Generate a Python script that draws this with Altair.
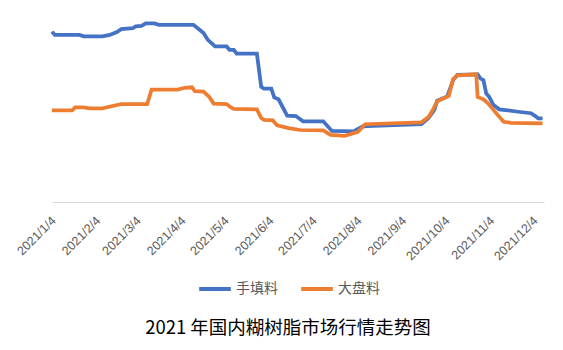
import altair as alt
import pandas as pd

series_names = ["手填料", "大盘料"]
series_colors = ["#4472C4", "#ED7D31"]

tick_labels = ["2021/1/4", "2021/2/4", "2021/3/4", "2021/4/4", "2021/5/4", "2021/6/4",
               "2021/7/4", "2021/8/4", "2021/9/4", "2021/10/4", "2021/11/4", "2021/12/4"]

title_text = "2021 年国内糊树脂市场行情走势图"

blue_dates = ["2021-01-04", "2021-01-06", "2021-01-23", "2021-01-26", "2021-02-08", "2021-02-13",
              "2021-02-18", "2021-02-21", "2021-03-01", "2021-03-03", "2021-03-07", "2021-03-10",
              "2021-03-16", "2021-03-19", "2021-04-12", "2021-04-15", "2021-04-19", "2021-04-22",
              "2021-04-27", "2021-05-05", "2021-05-07", "2021-05-10", "2021-05-12", "2021-05-26",
              "2021-05-29", "2021-05-31", "2021-06-05", "2021-06-07", "2021-06-10", "2021-06-16",
              "2021-06-22", "2021-06-27", "2021-07-11", "2021-07-17", "2021-08-01", "2021-08-07",
              "2021-08-10", "2021-09-17", "2021-09-22", "2021-09-26", "2021-09-28", "2021-10-05",
              "2021-10-09", "2021-10-12", "2021-10-26", "2021-10-28", "2021-10-30", "2021-11-01",
              "2021-11-03", "2021-11-06", "2021-11-10", "2021-11-23", "2021-12-02", "2021-12-05",
              "2021-12-07", "2021-12-10"]
blue_values = [22750, 22400, 22400, 22250, 22250, 22400,
               22700, 23000, 23100, 23300, 23350, 23600,
               23600, 23450, 23450, 23100, 22600, 21900,
               21200, 21200, 20850, 20850, 20450, 20450,
               17000, 16800, 16800, 15900, 15700, 14000,
               13950, 13400, 13400, 12400, 12350, 12850,
               12900, 13100, 13750, 14600, 15550, 16000,
               17700, 18250, 18300, 17850, 17700, 16300,
               15950, 15100, 14650, 14400, 14250, 13950,
               13700, 13700]

orange_dates = ["2021-01-04", "2021-01-18", "2021-01-20", "2021-01-26", "2021-01-30", "2021-02-08",
                "2021-02-18", "2021-02-21", "2021-03-11", "2021-03-14", "2021-04-01", "2021-04-06",
                "2021-04-11", "2021-04-13", "2021-04-19", "2021-04-23", "2021-04-26", "2021-05-05",
                "2021-05-08", "2021-05-10", "2021-05-26", "2021-05-29", "2021-05-31", "2021-06-06",
                "2021-06-09", "2021-06-17", "2021-06-25", "2021-07-11", "2021-07-16", "2021-07-26",
                "2021-08-04", "2021-08-09", "2021-09-17", "2021-09-22", "2021-09-25", "2021-09-28",
                "2021-10-06", "2021-10-09", "2021-10-12", "2021-10-25", "2021-10-26", "2021-10-30",
                "2021-11-02", "2021-11-06", "2021-11-09", "2021-11-13", "2021-11-18", "2021-12-10"]
orange_values = [14550, 14550, 14850, 14850, 14750, 14750,
                 15100, 15200, 15200, 16700, 16700, 16900,
                 16950, 16550, 16500, 15950, 15250, 15200,
                 14850, 14700, 14650, 13750, 13550, 13500,
                 13000, 12700, 12500, 12450, 12000, 11900,
                 12300, 13100, 13300, 13850, 14600, 15500,
                 16050, 17800, 18200, 18300, 15950, 15700,
                 15300, 14600, 14050, 13350, 13250, 13200]

x_start = "2021-01-04"
x_end = "2021-12-11"


def to_ms(s, fmt):
    return int(pd.to_datetime(s, format=fmt).value // 10**6)


tick_ms = [to_ms(t, "%Y/%m/%d") for t in tick_labels]
domain_ms = [to_ms(x_start, "%Y-%m-%d"), to_ms(x_end, "%Y-%m-%d")]

df_blue = pd.DataFrame({"date": blue_dates, "price": blue_values, "series": series_names[0]})
df_orange = pd.DataFrame({"date": orange_dates, "price": orange_values, "series": series_names[1]})
df_title = pd.DataFrame({"t": [title_text]})

x_enc = alt.X(
    "date:T",
    scale=alt.Scale(type="utc", domain=domain_ms),
    axis=alt.Axis(
        values=tick_ms,
        labelExpr="utcFormat(datum.value, '%Y/%-m/%-d')",
        labelAngle=-45,
        labelAlign="right",
        labelBaseline="top",
        labelFontSize=12.5,
        labelFont="Liberation Sans",
        labelColor="#595959",
        labelPadding=12,
        labelOffset=-3,
        ticks=False,
        grid=False,
        domainColor="#D9D9D9",
        domainWidth=1,
        title=None,
        labelOverlap=False,
    ),
)
y_enc = alt.Y("price:Q", scale=alt.Scale(domain=[5000, 25000], zero=False), axis=None)
color_enc = alt.Color(
    "series:N",
    scale=alt.Scale(domain=series_names, range=series_colors),
    legend=alt.Legend(
        orient="none",
        legendX=145,
        legendY=261,
        direction="horizontal",
        title=None,
        symbolType="stroke",
        symbolSize=1000,
        symbolStrokeWidth=4,
        labelFont="Noto Sans CJK SC",
        labelFontSize=14,
        labelColor="#595959",
        labelOffset=3,
        columnPadding=15,
    ),
)

blue_line = alt.Chart(df_blue).mark_line(strokeWidth=3.75).encode(x=x_enc, y=y_enc, color=color_enc)
orange_line = alt.Chart(df_orange).mark_line(strokeWidth=3.75).encode(x=x_enc, y=y_enc, color=color_enc)

title_mark = alt.Chart(df_title).mark_text(
    font="Noto Sans CJK SC", fontSize=18.5, color="#000000", align="center", baseline="middle"
).encode(text="t:N", x=alt.value(236), y=alt.value(318))

chart = alt.layer(blue_line, orange_line, title_mark).properties(
    width=492,
    height=192,
    background="white",
    autosize=alt.AutoSizeParams(type="none"),
    padding={"left": 52, "top": 10, "right": 19, "bottom": 148},
).configure_view(stroke=None)

chart.save("out.html", embed_options={"renderer": "svg", "actions": False})
